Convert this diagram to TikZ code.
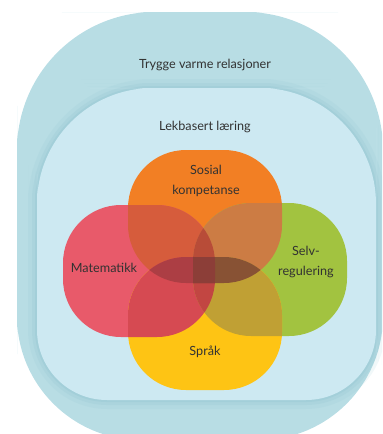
\documentclass[tikz,border=0pt]{standalone}
\usepackage{fontspec}
\setmainfont{Lato}
\usepackage{tikz}
\usetikzlibrary{positioning}

\definecolor{outerblue}{RGB}{184,221,228}
\definecolor{shadeblue}{RGB}{140,194,206}
\definecolor{innerblue}{RGB}{205,233,242}
\definecolor{orangeO}{RGB}{242,127,36}
\definecolor{redR}{RGB}{232,90,106}
\definecolor{greenG}{RGB}{162,195,64}
\definecolor{yellowY}{RGB}{254,196,20}
\definecolor{orC}{RGB}{214,92,60}
\definecolor{ogC}{RGB}{204,124,68}
\definecolor{yrC}{RGB}{214,74,82}
\definecolor{ygC}{RGB}{192,160,52}
\definecolor{rgoC}{RGB}{184,76,56}
\definecolor{rgyC}{RGB}{194,70,66}
\definecolor{oyrC}{RGB}{172,62,68}
\definecolor{oygC}{RGB}{136,82,52}
\definecolor{quadC}{RGB}{140,62,56}
\definecolor{textgray}{RGB}{50,50,50}

% petal outlines, pixel units
\newcommand{\petalO}{(128,150) rectangle (282,283)}
\newcommand{\petalR}{(63,205) rectangle (215,337)}
\newcommand{\petalG}{(193,203) rectangle (347,336)}
\newcommand{\petalY}{(128,257) rectangle (282,390)}
\newcommand{\outerpath}{(17,230) [rounded corners=3.45cm] -- (17,12) -- (200,12) -- (383,12) -- (383,230)
  [rounded corners=3.1cm] -- (383,440) -- (200,440) -- (17,440) -- cycle}
% inner ring, grown by #1 pixels
\newcommand{\innerpath}[1]{(37-#1,244) [rounded corners=2.9cm+#1*0.025cm] -- (37-#1,88-#1) -- (206,88-#1)
  -- (376+#1,88-#1) -- (376+#1,244) [rounded corners=1.75cm+#1*0.025cm] -- (376+#1,400+#1)
  -- (206,400+#1) -- (37-#1,400+#1) -- cycle}

\begin{document}
\begin{tikzpicture}[x=0.025cm, y=-0.025cm,
    petal/.style={rounded corners=1.45cm},
    txt/.style={font=\fontsize{9}{14}\selectfont, text=textgray, align=center}]
  \useasboundingbox (0,0) rectangle (382,434);
  \clip (0,0) rectangle (382,434);

  % the two rings
  \fill[outerblue] \outerpath;
  \fill[shadeblue, opacity=.12] \innerpath{9};
  \fill[shadeblue, opacity=.18] \innerpath{5};
  \fill[shadeblue, opacity=.25] \innerpath{2};
  \fill[innerblue] \innerpath{0};

  % petals
  \fill[petal, orangeO] \petalO;
  \fill[petal, redR] \petalR;
  \fill[petal, greenG] \petalG;
  \fill[petal, yellowY] \petalY;

  % overlaps
  \begin{scope}
    \clip[petal] \petalO;
    \fill[petal, orC] \petalR;
    \fill[petal, ogC] \petalG;
  \end{scope}
  \begin{scope}
    \clip[petal] \petalY;
    \fill[petal, yrC] \petalR;
    \fill[petal, ygC] \petalG;
  \end{scope}
  \begin{scope}
    \clip[petal] \petalR;
    \clip[petal] \petalG;
    \fill[petal, rgoC] \petalO;
    \fill[petal, rgyC] \petalY;
  \end{scope}
  \begin{scope}
    \clip[petal] \petalO;
    \clip[petal] \petalY;
    \fill[petal, oyrC] \petalR;
    \fill[petal, oygC] \petalG;
    \clip[petal] \petalR;
    \fill[petal, quadC] \petalG;
  \end{scope}

  % labels
  \node[txt] (trygge) at (205,65) {Trygge varme relasjoner};
  \node[txt] (lek) at (205,127) {Lekbasert læring};
  \node[txt] (sosial) at (206,181) {Sosial\\kompetanse};
  \node[txt] (mat) at (104,268) {Matematikk};
  \node[txt] (selv) at (306,262) {Selv-\\regulering};
  \node[txt] (sprak) at (205,352) {Språk};
\end{tikzpicture}
\end{document}
